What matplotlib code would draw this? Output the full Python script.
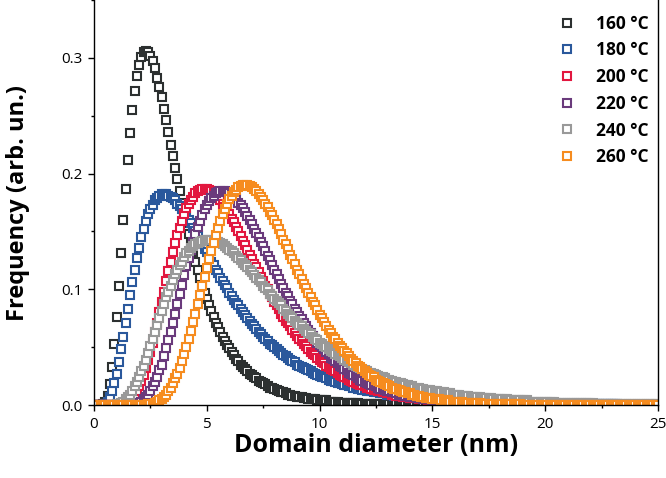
import numpy as np
import matplotlib
matplotlib.use("Agg")
import matplotlib.pyplot as plt
from matplotlib.ticker import MultipleLocator, FormatStrFormatter

plt.rcParams['font.family'] = ['Open Sans', 'DejaVu Sans']

# domain diameter grid (nm), one point every 0.1 nm
diameter = np.linspace(0, 25, 251)

# frequencies, in units of 1e-3 (arb. un.), one row per nm
f160 = [
    0, 0, 0, 0, 1, 3, 8, 18, 33, 53,
    76, 103, 131, 160, 187, 212, 235, 255, 271, 284,
    294, 301, 305, 306, 305, 302, 297, 291, 283, 275,
    266, 256, 246, 236, 225, 215, 205, 195, 185, 175,
    166, 157, 148, 140, 132, 124, 117, 110, 104, 97,
    92, 86, 81, 76, 71, 67, 63, 59, 55, 52,
    49, 46, 43, 40, 38, 35, 33, 31, 29, 27,
    26, 24, 23, 21, 20, 19, 18, 16, 15, 15,
    14, 13, 12, 11, 11, 10, 9, 9, 8, 8,
    7, 7, 7, 6, 6, 5, 5, 5, 5, 4,
    4, 4, 4, 4, 3, 3, 3, 3, 3, 2,
    2, 2, 2, 2, 2, 2, 2, 2, 1, 1,
    1, 1, 1, 1, 1, 1, 1, 1, 1, 1,
    1, 1, 1, 1, 1, 1, 1, 1, 1, 0,
    0, 0, 0, 0, 0, 0, 0, 0, 0, 0,
    0, 0, 0, 0, 0, 0, 0, 0, 0, 0,
    0, 0, 0, 0, 0, 0, 0, 0, 0, 0,
    0, 0, 0, 0, 0, 0, 0, 0, 0, 0,
    0, 0, 0, 0, 0, 0, 0, 0, 0, 0,
    0, 0, 0, 0, 0, 0, 0, 0, 0, 0,
    0, 0, 0, 0, 0, 0, 0, 0, 0, 0,
    0, 0, 0, 0, 0, 0, 0, 0, 0, 0,
    0, 0, 0, 0, 0, 0, 0, 0, 0, 0,
    0, 0, 0, 0, 0, 0, 0, 0, 0, 0,
    0, 0, 0, 0, 0, 0, 0, 0, 0, 0,
    0,
]
f180 = [
    0, 0, 0, 0, 0, 1, 3, 7, 12, 19,
    27, 37, 48, 59, 71, 83, 95, 106, 117, 127,
    136, 145, 152, 159, 165, 169, 173, 177, 179, 181,
    182, 182, 182, 181, 180, 179, 177, 174, 172, 169,
    166, 163, 160, 157, 153, 150, 146, 142, 139, 135,
    132, 128, 124, 121, 117, 114, 110, 107, 104, 101,
    97, 94, 91, 88, 86, 83, 80, 78, 75, 73,
    70, 68, 66, 63, 61, 59, 57, 55, 53, 52,
    50, 48, 47, 45, 43, 42, 41, 39, 38, 37,
    35, 34, 33, 32, 31, 30, 29, 28, 27, 26,
    25, 24, 24, 23, 22, 21, 21, 20, 19, 19,
    18, 17, 17, 16, 16, 15, 15, 14, 14, 13,
    13, 12, 12, 12, 11, 11, 11, 10, 10, 10,
    9, 9, 9, 8, 8, 8, 8, 7, 7, 7,
    7, 7, 6, 6, 6, 6, 6, 5, 5, 5,
    5, 5, 5, 5, 4, 4, 4, 4, 4, 4,
    4, 4, 3, 3, 3, 3, 3, 3, 3, 3,
    3, 3, 3, 2, 2, 2, 2, 2, 2, 2,
    2, 2, 2, 2, 2, 2, 2, 2, 2, 2,
    2, 2, 1, 1, 1, 1, 1, 1, 1, 1,
    1, 1, 1, 1, 1, 1, 1, 1, 1, 1,
    1, 1, 1, 1, 1, 1, 1, 1, 1, 1,
    1, 1, 1, 1, 1, 1, 1, 1, 1, 1,
    1, 1, 1, 0, 0, 0, 0, 0, 0, 0,
    0, 0, 0, 0, 0, 0, 0, 0, 0, 0,
    0,
]
f200 = [
    0, 0, 0, 0, 0, 0, 0, 0, 0, 0,
    0, 0, 0, 1, 1, 3, 4, 6, 9, 12,
    16, 21, 26, 32, 39, 46, 54, 63, 71, 80,
    89, 98, 107, 116, 124, 132, 140, 147, 153, 159,
    165, 170, 174, 177, 180, 183, 185, 186, 187, 187,
    187, 186, 185, 183, 182, 179, 177, 174, 171, 168,
    165, 161, 158, 154, 150, 146, 142, 138, 134, 130,
    126, 122, 119, 115, 111, 107, 103, 100, 96, 93,
    89, 86, 83, 79, 76, 73, 71, 68, 65, 62,
    60, 57, 55, 53, 51, 48, 46, 44, 43, 41,
    39, 37, 36, 34, 33, 31, 30, 29, 28, 26,
    25, 24, 23, 22, 21, 20, 19, 18, 17, 17,
    16, 15, 15, 14, 13, 13, 12, 12, 11, 11,
    10, 10, 9, 9, 8, 8, 8, 7, 7, 7,
    6, 6, 6, 6, 5, 5, 5, 5, 4, 4,
    4, 4, 4, 4, 3, 3, 3, 3, 3, 3,
    3, 2, 2, 2, 2, 2, 2, 2, 2, 2,
    2, 2, 1, 1, 1, 1, 1, 1, 1, 1,
    1, 1, 1, 1, 1, 1, 1, 1, 1, 1,
    1, 1, 1, 1, 1, 1, 0, 0, 0, 0,
    0, 0, 0, 0, 0, 0, 0, 0, 0, 0,
    0, 0, 0, 0, 0, 0, 0, 0, 0, 0,
    0, 0, 0, 0, 0, 0, 0, 0, 0, 0,
    0, 0, 0, 0, 0, 0, 0, 0, 0, 0,
    0, 0, 0, 0, 0, 0, 0, 0, 0, 0,
    0,
]
f220 = [
    0, 0, 0, 0, 0, 0, 0, 0, 0, 0,
    0, 0, 0, 0, 0, 0, 0, 1, 1, 1,
    2, 3, 5, 7, 9, 12, 16, 20, 24, 30,
    35, 42, 49, 56, 63, 71, 79, 87, 96, 104,
    112, 120, 127, 134, 141, 148, 154, 159, 164, 169,
    173, 176, 179, 181, 183, 184, 185, 185, 185, 184,
    183, 182, 180, 178, 175, 173, 170, 167, 163, 160,
    156, 152, 149, 145, 141, 137, 133, 129, 125, 121,
    117, 113, 109, 105, 101, 97, 94, 90, 87, 83,
    80, 77, 74, 71, 68, 65, 62, 60, 57, 54,
    52, 50, 48, 46, 44, 41, 40, 38, 36, 34,
    33, 31, 30, 28, 27, 26, 25, 23, 22, 21,
    20, 19, 18, 17, 17, 16, 15, 14, 14, 13,
    12, 12, 11, 11, 10, 9, 9, 9, 8, 8,
    7, 7, 7, 6, 6, 6, 5, 5, 5, 5,
    4, 4, 4, 4, 4, 3, 3, 3, 3, 3,
    3, 3, 2, 2, 2, 2, 2, 2, 2, 2,
    2, 1, 1, 1, 1, 1, 1, 1, 1, 1,
    1, 1, 1, 1, 1, 1, 1, 1, 1, 1,
    1, 1, 1, 0, 0, 0, 0, 0, 0, 0,
    0, 0, 0, 0, 0, 0, 0, 0, 0, 0,
    0, 0, 0, 0, 0, 0, 0, 0, 0, 0,
    0, 0, 0, 0, 0, 0, 0, 0, 0, 0,
    0, 0, 0, 0, 0, 0, 0, 0, 0, 0,
    0, 0, 0, 0, 0, 0, 0, 0, 0, 0,
    0,
]
f240 = [
    0, 0, 0, 0, 0, 0, 0, 0, 0, 0,
    1, 1, 2, 3, 5, 7, 9, 12, 16, 20,
    24, 29, 34, 39, 45, 51, 57, 63, 69, 75,
    81, 87, 93, 98, 103, 108, 113, 117, 121, 124,
    128, 131, 133, 136, 137, 139, 140, 141, 142, 143,
    143, 143, 143, 142, 142, 141, 140, 139, 137, 136,
    134, 133, 131, 129, 127, 125, 123, 121, 119, 117,
    115, 112, 110, 108, 106, 103, 101, 99, 96, 94,
    92, 90, 88, 86, 83, 81, 79, 77, 75, 73,
    71, 69, 68, 66, 64, 62, 61, 59, 57, 56,
    54, 53, 51, 50, 48, 47, 46, 44, 43, 42,
    41, 39, 38, 37, 36, 35, 34, 33, 32, 31,
    30, 29, 28, 28, 27, 26, 25, 24, 24, 23,
    22, 22, 21, 20, 20, 19, 19, 18, 17, 17,
    16, 16, 15, 15, 15, 14, 14, 13, 13, 13,
    12, 12, 12, 11, 11, 11, 10, 10, 10, 9,
    9, 9, 9, 8, 8, 8, 8, 7, 7, 7,
    7, 7, 6, 6, 6, 6, 6, 5, 5, 5,
    5, 5, 5, 5, 4, 4, 4, 4, 4, 4,
    4, 4, 4, 3, 3, 3, 3, 3, 3, 3,
    3, 3, 3, 3, 3, 2, 2, 2, 2, 2,
    2, 2, 2, 2, 2, 2, 2, 2, 2, 2,
    2, 2, 1, 1, 1, 1, 1, 1, 1, 1,
    1, 1, 1, 1, 1, 1, 1, 1, 1, 1,
    1, 1, 1, 1, 1, 1, 1, 1, 1, 1,
    1,
]
f260 = [
    0, 0, 0, 0, 0, 0, 0, 0, 0, 0,
    0, 0, 0, 0, 0, 0, 0, 0, 0, 0,
    0, 0, 0, 0, 1, 1, 1, 2, 3, 4,
    5, 7, 9, 12, 15, 19, 23, 27, 32, 38,
    44, 50, 57, 64, 72, 79, 87, 95, 103, 111,
    118, 126, 133, 140, 147, 153, 159, 165, 169, 174,
    178, 181, 184, 186, 188, 189, 190, 190, 190, 189,
    188, 187, 185, 182, 180, 177, 174, 171, 167, 164,
    160, 156, 152, 148, 143, 139, 135, 130, 126, 122,
    117, 113, 109, 105, 101, 97, 93, 89, 86, 82,
    78, 75, 72, 68, 65, 62, 59, 57, 54, 51,
    49, 47, 45, 42, 40, 38, 36, 34, 33, 31,
    29, 28, 26, 25, 24, 22, 21, 20, 19, 18,
    17, 16, 15, 14, 14, 13, 12, 11, 11, 10,
    10, 9, 9, 8, 8, 7, 7, 6, 6, 6,
    5, 5, 5, 5, 4, 4, 4, 4, 3, 3,
    3, 3, 3, 3, 2, 2, 2, 2, 2, 2,
    2, 2, 1, 1, 1, 1, 1, 1, 1, 1,
    1, 1, 1, 1, 1, 1, 1, 1, 1, 1,
    0, 0, 0, 0, 0, 0, 0, 0, 0, 0,
    0, 0, 0, 0, 0, 0, 0, 0, 0, 0,
    0, 0, 0, 0, 0, 0, 0, 0, 0, 0,
    0, 0, 0, 0, 0, 0, 0, 0, 0, 0,
    0, 0, 0, 0, 0, 0, 0, 0, 0, 0,
    0, 0, 0, 0, 0, 0, 0, 0, 0, 0,
    0,
]

labels = ['160 °C', '180 °C', '200 °C', '220 °C', '240 °C', '260 °C']
colors = ['#2c3030', '#2a589c', '#e2173f', '#6a3a7c', '#999999', '#f68c1f']

fig = plt.figure(figsize=(6.66, 4.78), dpi=100)
ax = fig.add_axes([0.1411, 0.1527, 0.8468, 0.8473])

for series, lab, col in zip([f160, f180, f200, f220, f240, f260], labels, colors):
    ax.plot(diameter, np.array(series) / 1000.0, ls='none', marker='s',
            ms=5.8, mew=1.5, mfc='white', mec=col, label=lab)

ax.set_xlim(0, 25)
ax.set_ylim(0, 0.35)
ax.xaxis.set_major_locator(MultipleLocator(5))
ax.xaxis.set_minor_locator(MultipleLocator(2.5))
ax.yaxis.set_major_locator(MultipleLocator(0.1))
ax.yaxis.set_minor_locator(MultipleLocator(0.05))
ax.yaxis.set_major_formatter(FormatStrFormatter('%.1f'))

ax.spines['top'].set_visible(False)
for s in ['left', 'bottom', 'right']:
    ax.spines[s].set_linewidth(1.0)
ax.tick_params(which='major', direction='out', length=4.5, width=1.0,
               labelsize=11, pad=4, top=False, right=False)
ax.tick_params(which='minor', direction='out', length=2.5, width=1.0,
               top=False, right=False)

ax.set_xlabel('Domain diameter (nm)', fontsize=18, fontweight='bold', labelpad=1)
ax.set_ylabel('Frequency (arb. un.)', fontsize=17, fontweight='bold', labelpad=22)

leg = ax.legend(loc='upper right', bbox_to_anchor=(1.0, 0.987), frameon=False,
                numpoints=1, handlelength=1.0, handletextpad=1.15,
                labelspacing=0.5, borderaxespad=0.15,
                prop={'size': 12.5, 'weight': 'bold'})
for h in leg.legend_handles:
    h.set_markersize(5.2)

fig.savefig('out.png', dpi=100)
